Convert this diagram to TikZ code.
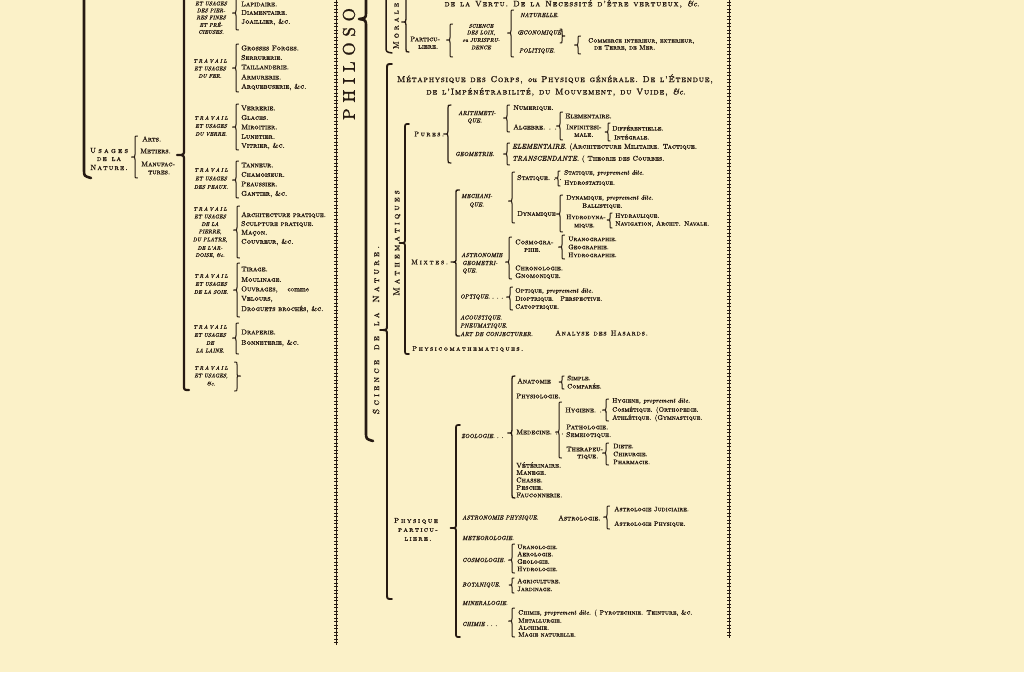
\documentclass[tikz,border=0pt]{standalone}
\usepackage{fontspec}
\setmainfont{lmroman10-regular.otf}[
  FakeBold=1.4,
  ItalicFont=lmroman10-italic.otf,
  ItalicFeatures={FakeBold=1.4},
  SmallCapsFont=lmromancaps10-regular.otf,
  SmallCapsFeatures={FakeBold=1.4}]
\definecolor{paper}{RGB}{251,241,200}
\definecolor{ink}{RGB}{38,26,18}
\makeatletter
\newcommand\letsp[2]{{\def\letsp@k{\hskip#1\relax}\letsp@loop#2\@nil}}
\def\letsp@loop#1{\ifx\@nil#1\else#1\letsp@k\expandafter\letsp@loop\fi}
\makeatother
\newcommand\iu[1]{{\normalfont\itshape#1}}
\newcommand\hk{2.5}
% left brace {  : x, top, tip, bottom
\newcommand\brl[5][]{\draw[br,#1] ({#2+\hk},#3) .. controls (#2,#3) .. (#2,{#3+\hk})
  -- (#2,{#4-\hk}) .. controls (#2,#4) .. ({#2-1.4*\hk},#4) .. controls (#2,#4) .. (#2,{#4+\hk})
  -- (#2,{#5-\hk}) .. controls (#2,#5) .. ({#2+\hk},#5);}
% right brace }
\newcommand\brr[5][]{\draw[br,#1] ({#2-\hk},#3) .. controls (#2,#3) .. (#2,{#3+\hk})
  -- (#2,{#4-\hk}) .. controls (#2,#4) .. ({#2+1.4*\hk},#4) .. controls (#2,#4) .. (#2,{#4+\hk})
  -- (#2,{#5-\hk}) .. controls (#2,#5) .. ({#2-\hk},#5);}
\tikzset{
  item/.style={anchor=west, inner sep=0pt, text=ink, font=\fontsize{7}{8}\selectfont\scshape},
  small/.style={item, font=\fontsize{6.5}{7}\selectfont\scshape},
  ital/.style={anchor=west, inner sep=0pt, text=ink, font=\fontsize{5.9}{6.5}\selectfont\itshape},
  lab/.style={inner sep=0pt, text=ink, font=\fontsize{5.5}{6}\selectfont\itshape},
  caps/.style={inner sep=0pt, text=ink, font=\fontsize{7.5}{8}\selectfont\scshape},
  vhead/.style={rotate=90, inner sep=0pt, text=ink},
  br/.style={draw=ink, line width=1pt, line cap=round, line join=round},
  chain/.style={draw=ink, line width=0.5pt,
    postaction={draw=ink, line width=3.2pt, dash pattern=on 0.7pt off 2.8pt}}
}
\begin{document}
\begin{tikzpicture}[x=1pt,y=-1pt]
  \fill[paper] (0,0) rectangle (1024,672);
  \useasboundingbox (0,0) rectangle (1024,672);
  \clip (0,0) rectangle (1024,672);

  % rows of crosses
  \draw[chain] (336,-2) -- (336,645);
  \draw[chain] (729,-2) -- (729,638);

  % ---------- left column: usages de la nature
  \draw[br, line width=2.6pt] (84,-5) -- (84,170) .. controls (84,176) .. (91,178);
  \node[caps] (usages) at (109,150.5) {\letsp{2.3pt}{Usages}};
  \node[caps] (dela) at (109,159) {\letsp{1pt}{de~la}};
  \node[caps] (nature) at (109,167.5) {\letsp{1.1pt}{Nature.}};
  \brl{135}{136}{157}{178}
  \node[item] (arts) at (142,139) {Arts.};
  \node[item] (metiers) at (140,151) {Metiers.};
  \node[item] (manuf) at (141,164) {Manufac-};
  \node[item] (tures) at (148,172.5) {tures.};
  {\renewcommand\hk{5}\brl[line width=2.2pt]{184}{-80}{155}{390}}

  % travail et usages
  \foreach \t/\y [count=\i] in {ET USAGES/3.5, DES PIER-/10.5, RES FINES/17.5, ET PRÉ-/24.5, CIEUSES./32}
    \node[lab, name=pier\i] at (211,\y) {\t};
  \brl{236}{-4}{13}{30}
  \foreach \t/\y [count=\i] in {Lapidaire./4, Diamentaire./12.5, {Joaillier, \&c.}/22}
    \node[item, name=pierit\i] at (241,\y) {\t};

  \foreach \t/\y [count=\i] in {{\letsp{1.3pt}{TRAVAIL}}/61, ET USAGES/68.5, DU FER./76}
    \node[lab, name=fer\i] at (210,\y) {\t};
  \brl{236}{44}{68}{92}
  \foreach \t/\y [count=\i] in {Grosses Forges./48, Serrurerie./57.5, Taillanderie./67, Armurerie./77, {Arquebuserie, \&c.}/87}
    \node[item, name=ferit\i] at (241,\y) {\t};

  \foreach \t/\y [count=\i] in {{\letsp{1.3pt}{TRAVAIL}}/118, ET USAGES/126, DU VERRE./134}
    \node[lab, name=verre\i] at (211,\y) {\t};
  \brl{236}{104}{127}{150}
  \foreach \t/\y [count=\i] in {Verrerie./108, Glaces./117.5, Miroitier./127, Lunetier./136.5, {Vitrier, \&c.}/146}
    \node[item, name=verreit\i] at (241,\y) {\t};

  \foreach \t/\y [count=\i] in {{\letsp{1.3pt}{TRAVAIL}}/170, ET USAGES/178.5, DES PEAUX./187}
    \node[lab, name=peau\i] at (211,\y) {\t};
  \brl{236}{161}{180}{198}
  \foreach \t/\y [count=\i] in {Tanneur./165, Chamoiseur./174.5, Peaussier./184, {Gantier, \&c.}/194}
    \node[item, name=peauit\i] at (241,\y) {\t};

  \foreach \t/\y [count=\i] in {{\letsp{1.3pt}{TRAVAIL}}/209, ET USAGES/216.5, DE LA/224, {PIERRE,}/232, {DU PLATRE,}/240, DE L'AR-/248, {DOISE, \&c.}/255.5}
    \node[lab, name=pierre\i] at (210,\y) {\t};
  \brl{237}{206}{230}{258}
  \foreach \t/\y [count=\i] in {Architecture pratique./215, Sculpture pratique./224, Maçon./233, {Couvreur, \&c.}/242}
    \node[item, name=pierreit\i] at (241,\y) {\t};

  \foreach \t/\y [count=\i] in {{\letsp{1.3pt}{TRAVAIL}}/276, ET USAGES/284, DE LA SOIE./292}
    \node[lab, name=soie\i] at (211,\y) {\t};
  \brl{237}{263}{290}{317}
  \foreach \t/\y [count=\i] in {Tirage./269, Moulinage./279.5, {Ouvrages, \quad{\normalfont comme}}/289.5, {Velours,}/299, {Droguets brochés, \&c.}/309}
    \node[item, name=soieit\i] at (241,\y) {\t};

  \foreach \t/\y [count=\i] in {{\letsp{1.3pt}{TRAVAIL}}/327, ET USAGES/335, DE/343, LA LAINE./350.5}
    \node[lab, name=laine\i] at (210,\y) {\t};
  \brl{236}{323}{338}{354}
  \node[item] (drap) at (241,332) {Draperie.};
  \node[item] (bonnet) at (241,343) {Bonneterie, \&c.};

  \foreach \t/\y [count=\i] in {{\letsp{1.3pt}{TRAVAIL}}/368, {ET USAGES,}/376, \&c./383.5}
    \node[lab, name=etc\i] at (211,\y) {\t};
  \brr{237}{362}{376}{391}

  % ---------- philosophie
  \node[vhead, font=\fontsize{17}{17}\selectfont] (philo) at (349,64)
    {P\hspace{5.8pt}H\hspace{5.8pt}I\hspace{5.8pt}L\hspace{5.8pt}O\hspace{5.8pt}S\hspace{5.8pt}O};
  \draw[br, line width=2.6pt] (366,-5) -- (366,12) .. controls (366,18) .. (359,19)
    .. controls (366,20) .. (366,27) -- (366,432) .. controls (366,439) .. (373,441);
  \draw[br, line width=1.5pt] (386,-5) -- (386,46) .. controls (386,52) .. (392,53);

  % morale
  \node[vhead, font=\fontsize{8}{8}\selectfont\scshape] (morale) at (396,26) {\letsp{3pt}{Morale}};
  {\renewcommand\hk{3}\brl[line width=1.3pt]{406}{-20}{22}{52}}
  \node[caps, font=\fontsize{8}{9}\selectfont\scshape] (vertu) at (572,4)
    {\letsp{1pt}{de~la~Vertu.~De~la~Necessité~d'être~vertueux,~{\iu{\&c.}}}};
  \node[item] (partic) at (410,39) {Particu-};
  \node[item] (liere) at (418,47) {liere.};
  \brl{450}{24}{40}{57}
  \foreach \t/\y [count=\i] in {SCIENCE/26, {DES LOIX,}/33, ou JURISPRU-/40, DENCE/47.5}
    \node[lab, name=loix\i] at (481,\y) {\t};
  \brl{511}{10}{33}{57}
  \node[ital] (natur) at (520,15) {NATURELLE.};
  \node[ital] (oecon) at (517,33) {ŒCONOMIQUE.};
  \node[ital] (polit) at (519,51) {POLITIQUE.};
  {\renewcommand\hk{2}\brr{562}{29}{36}{43}}
  \brl{578}{36}{45}{54}
  \node[small] (comm) at (588,41) {Commerce interieur, exterieur,};
  \node[small] (terre) at (594,48) {de Terre, de Mer.};

  % ---------- science de la nature
  {\renewcommand\hk{5}\brl[line width=1.9pt]{387}{64}{330}{599}}
  \node[vhead, font=\fontsize{9}{9}\selectfont\scshape] (scnat) at (376,330)
    {\letsp{3.3pt}{Science~de~la~Nature.}};
  \node[caps, font=\fontsize{8.5}{9}\selectfont\scshape] (meta1) at (555,79)
    {\letsp{0.75pt}{Métaphysique~des~Corps,~{\iu{ou}}~Physique~générale.~De~l'Étendue,}};
  \node[caps, font=\fontsize{8.5}{9}\selectfont\scshape] (meta2) at (556,92)
    {\letsp{0.8pt}{de~l'Impénétrabilité,~du~Mouvement,~du~Vuide,~{\iu{\&c.}}}};

  % mathematiques
  {\renewcommand\hk{4}\brl[line width=1.7pt]{405}{124}{243}{354}}
  \node[vhead, font=\fontsize{8.5}{9}\selectfont\scshape] (math) at (397,243) {\letsp{3.2pt}{Mathematiques}};
  \node[item, font=\fontsize{6.8}{7}\selectfont\scshape] (pures) at (414,134) {\letsp{1.5pt}{Pures.}};
  {\renewcommand\hk{3}\brl[line width=1.2pt]{448}{105}{134}{163}}
  \node[ital] (arith) at (458,113) {ARITHMETI-};
  \node[ital] (arith2) at (467,121) {QUE.};
  \brl{507}{105}{118}{132}
  \node[item] (numer) at (513,108) {Numerique.};
  \node[item] (algeb) at (513,127) {Algebre. . .};
  \brl{560}{112}{126}{140}
  \node[item] (elem) at (565,116) {Elementaire.};
  \node[item] (infin) at (566,127) {Infinitesi-};
  \node[item] (male) at (574,135) {male.};
  {\renewcommand\hk{2}\brl{608}{123}{132}{141}}
  \node[small] (diff) at (612,128) {Différentielle.};
  \node[small] (integ) at (614,137) {Intégrale.};
  \node[ital] (geom) at (455,154) {GEOMETRIE.};
  \brl{507}{143}{154}{165}
  \node[item] (geoel) at (512,147) {\iu{ELEMENTAIRE.} (Architecture Militaire. Tactique.};
  \node[item] (geotr) at (512,159) {\iu{TRANSCENDANTE.} ( Theorie des Courbes.};

  \node[item, font=\fontsize{6.8}{7}\selectfont\scshape] (mixtes) at (411,262) {\letsp{1.8pt}{Mixtes.}};
  {\renewcommand\hk{3.5}\brl[line width=1.4pt]{456}{190}{262}{336}}
  \node[ital] (mech) at (461,196) {MECHANI-};
  \node[ital] (mech2) at (469,205) {QUE.};
  \brl{512}{172}{201}{223}
  \node[item] (stat) at (517,178) {Statique. . .};
  \node[item] (dyn) at (517,214) {Dynamique};
  {\renewcommand\hk{2}\brl{558}{171}{178}{186}}
  \node[small] (stat1) at (564,173) {Statique, \iu{proprement dite.}};
  \node[small] (stat2) at (564,183) {Hydrostatique.};
  \brl{560}{195}{214}{232}
  \node[small] (dyn1) at (566,198) {Dynamique, \iu{proprement dite.}};
  \node[small] (dyn2) at (582,206) {Ballistique.};
  \node[small] (dyn3) at (566,217) {Hydrodyna-};
  \node[small] (dyn4) at (574,226) {mique.};
  {\renewcommand\hk{2}\brl{610}{213}{220}{228}}
  \node[small] (hydr1) at (615,216) {Hydraulique.};
  \node[small] (hydr2) at (615,224) {Navigation, Archit. Navale.};

  \node[ital] (astro) at (461,255) {ASTRONOMIE};
  \node[ital] (astro2) at (462,263) {GEOMETRI-};
  \node[ital] (astro3) at (462,271) {QUE.};
  \brl{509}{237}{262}{279}
  \node[item] (cosmo) at (515,242) {Cosmogra-};
  \node[item] (cosmo2) at (524,250) {phie.};
  \node[item] (chron) at (515,268) {Chronologie.};
  \node[item] (gnom) at (515,276) {Gnomonique.};
  \brl{562}{235}{247}{259}
  \foreach \t/\y [count=\i] in {Uranographie./239, Geographie./247, Hydrographie./255}
    \node[small, name=graph\i] at (568,\y) {\t};

  \node[ital] (opt) at (460,297) {OPTIQUE. . . .};
  \brl{510}{287}{297}{310}
  \node[small] (opt1) at (515,291) {Optique, \iu{proprement dite.}};
  \node[small] (opt2) at (515,299) {Dioptrique.\quad Perspective.};
  \node[small] (opt3) at (515,307) {Catoptrique.};
  \node[ital] (acou) at (460,318) {ACOUSTIQUE.};
  \node[ital] (pneu) at (460,326) {PNEUMATIQUE.};
  \node[ital] (conj) at (460,334) {ART DE CONJECTURER.};
  \node[item] (hasard) at (555,333) {\letsp{0.8pt}{Analyse~des~Hasards.}};
  \node[item, font=\fontsize{6.8}{7}\selectfont\scshape] (phymath) at (412,349)
    {\letsp{1.5pt}{Physicomathematiques.}};

  % physique particuliere
  \node[caps, font=\fontsize{7.2}{8}\selectfont\scshape] (phys1) at (416,521) {\letsp{1.6pt}{Physique}};
  \node[caps, font=\fontsize{7.2}{8}\selectfont\scshape] (phys2) at (418,530) {\letsp{1.3pt}{particu-}};
  \node[caps, font=\fontsize{7.2}{8}\selectfont\scshape] (phys3) at (418,539) {\letsp{1.3pt}{liere.}};
  {\renewcommand\hk{4}\brl[line width=1.7pt]{456}{425}{528}{637}}

  \node[ital] (zoo) at (461,436) {ZOOLOGIE. . .};
  {\renewcommand\hk{3}\brl[line width=1.3pt]{512}{376}{433}{498}}
  \node[item] (anat) at (517,381) {Anatomie};
  {\renewcommand\hk{2}\brl{562}{376}{382}{389}}
  \node[small] (anat1) at (567,378) {Simple.};
  \node[small] (anat2) at (567,386) {Comparée.};
  \node[item] (physio) at (516,396) {Physiologie.};
  \node[item] (med) at (516,432) {Medecine. . .};
  \brl{559}{402}{432}{458}
  \node[item] (hyg) at (565,410) {Hygiene. . .};
  \brl{606}{399}{410}{421}
  \node[small] (hyg1) at (612,401) {Hygiene, \iu{proprement dite.}};
  \node[small] (hyg2) at (612,410) {Cosmétique. (Orthopedie.};
  \node[small] (hyg3) at (612,418) {Athlétique. (Gymnastique.};
  \node[item] (patho) at (566,427) {Pathologie.};
  \node[item] (semei) at (566,435) {Semeiotique.};
  \node[item] (thera) at (566,449) {Therapeu-};
  \node[item] (thera2) at (577,457) {tique.};
  \brl{606}{443}{453}{465}
  \foreach \t/\y [count=\i] in {Diete./446, Chirurgie./454, Pharmacie./462}
    \node[small, name=ther\i] at (613,\y) {\t};
  \foreach \t/\y [count=\i] in {Vétérinaire./465, Manege./472.5, Chasse./480, Pesche./487.5, Fauconnerie./495}
    \node[item, name=zooit\i] at (516,\y) {\t};

  \node[ital] (astph) at (462,518) {ASTRONOMIE PHYSIQUE.};
  \node[item] (astrol) at (558,518) {Astrologie.};
  \brl{607}{506}{517}{529}
  \node[small] (astrol1) at (614,509) {Astrologie Judiciaire.};
  \node[small] (astrol2) at (614,524) {Astrologie Physique.};
  \node[ital] (meteo) at (462,538) {METEOROLOGIE.};
  \node[ital] (cosmol) at (462,560) {COSMOLOGIE.};
  \brl{512}{544}{560}{573}
  \foreach \t/\y [count=\i] in {Uranologie./547, Aerologie./554, Geologie./561.5, Hydrologie./569}
    \node[small, name=cosmol\i] at (517,\y) {\t};
  \node[ital] (bota) at (462,585) {BOTANIQUE.};
  {\renewcommand\hk{2}\brl{512}{578}{585}{593}}
  \node[small] (agri) at (517,581) {Agriculture.};
  \node[small] (jard) at (517,589) {Jardinage.};
  \node[ital] (miner) at (462,603) {MINERALOGIE.};
  \node[ital] (chim) at (462,624) {CHIMIE . . .};
  \brl{512}{608}{621}{637}
  \node[small] (chim1) at (518,613) {Chimie, \iu{proprement dite.} ( Pyrotechnie. Teinture, \&c.};
  \foreach \t/\y [count=\i] in {Metallurgie./620.5, Alchimie./627.5, Magie naturelle./634.5}
    \node[small, name=chimit\i] at (518,\y) {\t};
\end{tikzpicture}
\end{document}
